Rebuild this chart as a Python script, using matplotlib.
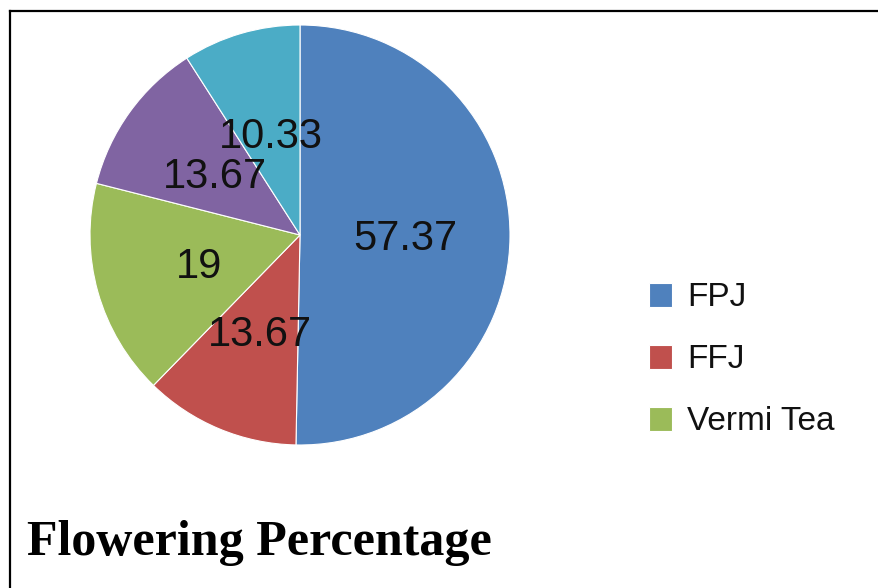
import matplotlib
matplotlib.use("Agg")
import matplotlib.pyplot as plt
from matplotlib.lines import Line2D
import numpy as np

categories = ["FPJ", "FFJ", "Vermi Tea", "Treatment 4", "Treatment 5"]
values = [57.37, 13.67, 19, 13.67, 10.33]
value_labels = ["57.37", "13.67", "19", "13.67", "10.33"]
colors = ["#4F81BD", "#C0504D", "#9BBB59", "#8064A2", "#4BACC6"]
legend_count = 3
title = "Flowering Percentage"

W, H = 879, 588
fig = plt.figure(figsize=(W / 100, H / 100), dpi=100)
fig.patch.set_facecolor("white")

# pie axes: 420px square, centred at (300, 235) from top-left
ax = fig.add_axes([90 / W, (H - 445) / H, 420 / W, 420 / H])
wedges, _ = ax.pie(values, colors=colors, startangle=90, counterclock=False,
                   wedgeprops=dict(edgecolor="white", linewidth=0.8))
ax.set_xlim(-1, 1)
ax.set_ylim(-1, 1)
ax.set_aspect("equal")

# data labels at the middle of each wedge
for w, lab in zip(wedges, value_labels):
    ang = np.deg2rad((w.theta1 + w.theta2) / 2)
    r = 0.5
    ax.text(r * np.cos(ang), r * np.sin(ang) - 0.015, lab, ha="center", va="center",
            fontsize=30, family="Liberation Sans", color="#111111")

leg = fig.legend(wedges[:legend_count], categories[:legend_count],
                 loc="center left", bbox_to_anchor=(632 / W, 1 - 360 / H),
                 frameon=False, prop=dict(family="Liberation Sans", size=24),
                 handlelength=0.7, handleheight=0.7, handletextpad=0.45,
                 labelspacing=0.93, borderpad=0)
for t in leg.get_texts():
    t.set_color("#111111")

fig.text(27 / W, 1 - 555 / H, title, ha="left", va="baseline",
         fontsize=36, fontweight="bold", family="Liberation Serif", color="black")

# frame lines (top and left visible)
fig.add_artist(Line2D([9.5 / W, 1.0], [1 - 10.5 / H, 1 - 10.5 / H],
                      transform=fig.transFigure, color="black", linewidth=1.6))
fig.add_artist(Line2D([9.5 / W, 9.5 / W], [0, 1 - 10.5 / H],
                      transform=fig.transFigure, color="black", linewidth=1.6))

fig.savefig("out.png", dpi=100, facecolor="white")
